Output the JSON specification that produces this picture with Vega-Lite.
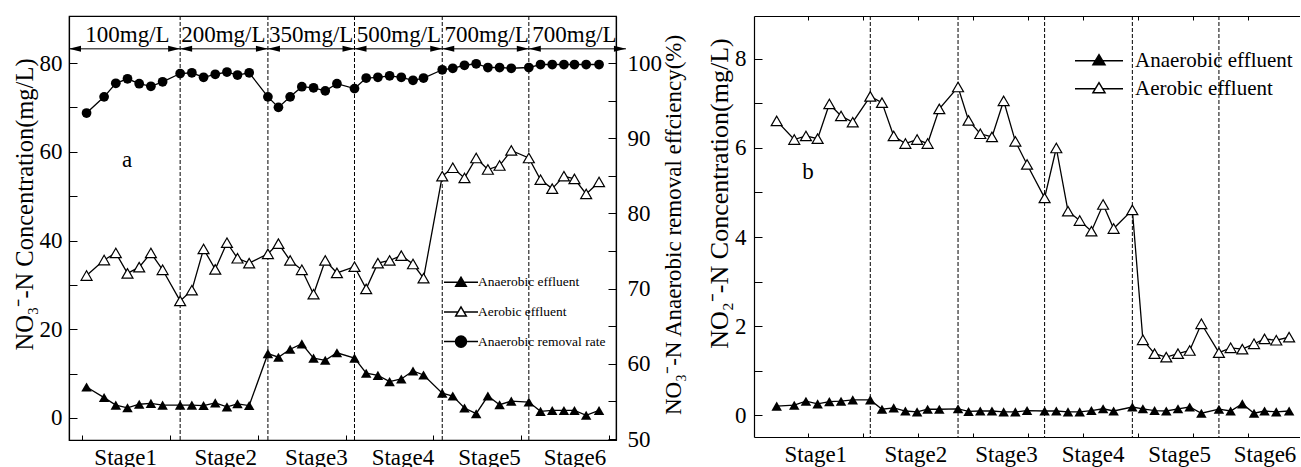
{
  "$schema": "https://vega.github.io/schema/vega-lite/v6.json",
  "padding": {"left": 11, "top": 14, "right": 0, "bottom": 0},
  "spacing": 19,
  "resolve": {"scale": {"shape": "independent", "fill": "independent"}, "legend": {"shape": "independent", "fill": "independent"}},
  "config": {
    "font": "Liberation Serif",
    "view": {"stroke": "black", "strokeWidth": 1.2},
    "style": {"guide-label": {"font": "Liberation Serif", "fill": "black"}, "guide-title": {"font": "Liberation Serif", "fill": "black"}},
    "axis": {"domainColor": "black", "domainWidth": 1.2, "tickColor": "black", "tickWidth": 1, "labelColor": "black", "titleColor": "black", "labelFont": "Liberation Serif", "titleFont": "Liberation Serif", "labelFontSize": 23, "titleFontSize": 23, "titleFontWeight": "normal", "grid": false, "labelOverlap": false, "labelFlush": false, "labelBound": false},
    "legend": {"labelFont": "Liberation Serif", "labelColor": "black"}
  },
  "datasets": {
    "nitrate": [
      {"x": 1.5, "anaerobic": 7.0, "aerobic": 32.1, "rate": 93.35},
      {"x": 3.0, "anaerobic": 4.6, "aerobic": 35.6, "rate": 95.5},
      {"x": 4.0, "anaerobic": 2.9, "aerobic": 37.2, "rate": 97.3},
      {"x": 5.0, "anaerobic": 2.3, "aerobic": 32.6, "rate": 97.9},
      {"x": 6.0, "anaerobic": 3.1, "aerobic": 34.0, "rate": 97.25},
      {"x": 7.0, "anaerobic": 3.3, "aerobic": 37.2, "rate": 96.9},
      {"x": 8.0, "anaerobic": 2.9, "aerobic": 33.4, "rate": 97.5},
      {"x": 9.5, "anaerobic": 2.9, "aerobic": 26.4, "rate": 98.6},
      {"x": 10.5, "anaerobic": 2.9, "aerobic": 28.8, "rate": 98.7},
      {"x": 11.5, "anaerobic": 2.8, "aerobic": 38.1, "rate": 98.1},
      {"x": 12.5, "anaerobic": 3.4, "aerobic": 33.5, "rate": 98.5},
      {"x": 13.5, "anaerobic": 2.5, "aerobic": 39.5, "rate": 98.8},
      {"x": 14.4, "anaerobic": 3.2, "aerobic": 36.0, "rate": 98.4},
      {"x": 15.4, "anaerobic": 2.8, "aerobic": 34.9, "rate": 98.7},
      {"x": 17.0, "anaerobic": 14.5, "aerobic": 37.0, "rate": 95.5},
      {"x": 17.9, "anaerobic": 13.7, "aerobic": 39.3, "rate": 94.1},
      {"x": 18.9, "anaerobic": 15.5, "aerobic": 35.5, "rate": 95.5},
      {"x": 19.9, "anaerobic": 16.7, "aerobic": 33.4, "rate": 96.85},
      {"x": 20.9, "anaerobic": 13.5, "aerobic": 27.9, "rate": 96.7},
      {"x": 21.9, "anaerobic": 13.0, "aerobic": 35.5, "rate": 96.3},
      {"x": 22.9, "anaerobic": 14.7, "aerobic": 32.7, "rate": 97.25},
      {"x": 24.4, "anaerobic": 13.5, "aerobic": 34.1, "rate": 96.6},
      {"x": 25.4, "anaerobic": 10.1, "aerobic": 29.1, "rate": 98.0},
      {"x": 26.4, "anaerobic": 9.6, "aerobic": 34.9, "rate": 98.1},
      {"x": 27.4, "anaerobic": 8.2, "aerobic": 35.5, "rate": 98.3},
      {"x": 28.4, "anaerobic": 8.8, "aerobic": 36.6, "rate": 98.1},
      {"x": 29.4, "anaerobic": 10.6, "aerobic": 34.7, "rate": 97.7},
      {"x": 30.3, "anaerobic": 9.7, "aerobic": 31.5, "rate": 98.0},
      {"x": 31.9, "anaerobic": 5.6, "aerobic": 54.5, "rate": 99.1},
      {"x": 32.8, "anaerobic": 4.95, "aerobic": 56.4, "rate": 99.3},
      {"x": 33.8, "anaerobic": 2.25, "aerobic": 54.1, "rate": 99.7},
      {"x": 34.8, "anaerobic": 0.97, "aerobic": 58.6, "rate": 99.9},
      {"x": 35.8, "anaerobic": 4.95, "aerobic": 56.0, "rate": 99.4},
      {"x": 36.8, "anaerobic": 3.0, "aerobic": 56.9, "rate": 99.4},
      {"x": 37.8, "anaerobic": 3.8, "aerobic": 60.3, "rate": 99.3},
      {"x": 39.3, "anaerobic": 3.6, "aerobic": 58.6, "rate": 99.4},
      {"x": 40.3, "anaerobic": 1.5, "aerobic": 53.7, "rate": 99.8},
      {"x": 41.3, "anaerobic": 1.7, "aerobic": 51.7, "rate": 99.8},
      {"x": 42.3, "anaerobic": 1.7, "aerobic": 54.5, "rate": 99.8},
      {"x": 43.2, "anaerobic": 1.7, "aerobic": 53.9, "rate": 99.8},
      {"x": 44.2, "anaerobic": 0.6, "aerobic": 50.5, "rate": 99.8},
      {"x": 45.3, "anaerobic": 1.7, "aerobic": 53.2, "rate": 99.8}
    ],
    "nitrite": [
      {"x": 1.5, "anaerobic": 0.20, "aerobic": 6.61},
      {"x": 3.0, "anaerobic": 0.22, "aerobic": 6.19},
      {"x": 4.0, "anaerobic": 0.31, "aerobic": 6.27},
      {"x": 5.0, "anaerobic": 0.25, "aerobic": 6.21},
      {"x": 6.0, "anaerobic": 0.30, "aerobic": 6.99},
      {"x": 7.0, "anaerobic": 0.31, "aerobic": 6.72},
      {"x": 8.0, "anaerobic": 0.34, "aerobic": 6.58},
      {"x": 9.5, "anaerobic": 0.34, "aerobic": 7.16},
      {"x": 10.5, "anaerobic": 0.13, "aerobic": 7.02},
      {"x": 11.5, "anaerobic": 0.16, "aerobic": 6.27},
      {"x": 12.5, "anaerobic": 0.09, "aerobic": 6.10},
      {"x": 13.5, "anaerobic": 0.07, "aerobic": 6.19},
      {"x": 14.4, "anaerobic": 0.13, "aerobic": 6.10},
      {"x": 15.4, "anaerobic": 0.13, "aerobic": 6.88},
      {"x": 17.0, "anaerobic": 0.14, "aerobic": 7.37},
      {"x": 17.9, "anaerobic": 0.08, "aerobic": 6.62},
      {"x": 18.9, "anaerobic": 0.09, "aerobic": 6.32},
      {"x": 19.9, "anaerobic": 0.09, "aerobic": 6.25},
      {"x": 20.9, "anaerobic": 0.07, "aerobic": 7.06},
      {"x": 21.9, "anaerobic": 0.07, "aerobic": 6.15},
      {"x": 22.9, "anaerobic": 0.10, "aerobic": 5.63},
      {"x": 24.4, "anaerobic": 0.09, "aerobic": 4.88},
      {"x": 25.4, "anaerobic": 0.09, "aerobic": 6.00},
      {"x": 26.4, "anaerobic": 0.07, "aerobic": 4.58},
      {"x": 27.4, "anaerobic": 0.07, "aerobic": 4.37},
      {"x": 28.4, "anaerobic": 0.10, "aerobic": 4.13},
      {"x": 29.4, "anaerobic": 0.14, "aerobic": 4.73},
      {"x": 30.3, "anaerobic": 0.09, "aerobic": 4.19},
      {"x": 31.9, "anaerobic": 0.18, "aerobic": 4.61},
      {"x": 32.8, "anaerobic": 0.14, "aerobic": 1.69},
      {"x": 33.8, "anaerobic": 0.10, "aerobic": 1.38},
      {"x": 34.8, "anaerobic": 0.09, "aerobic": 1.30},
      {"x": 35.8, "anaerobic": 0.14, "aerobic": 1.38},
      {"x": 36.8, "anaerobic": 0.18, "aerobic": 1.45},
      {"x": 37.8, "anaerobic": 0.04, "aerobic": 2.05},
      {"x": 39.3, "anaerobic": 0.13, "aerobic": 1.40},
      {"x": 40.3, "anaerobic": 0.09, "aerobic": 1.51},
      {"x": 41.3, "anaerobic": 0.25, "aerobic": 1.48},
      {"x": 42.3, "anaerobic": 0.04, "aerobic": 1.60},
      {"x": 43.2, "anaerobic": 0.09, "aerobic": 1.71},
      {"x": 44.2, "anaerobic": 0.07, "aerobic": 1.68},
      {"x": 45.3, "anaerobic": 0.09, "aerobic": 1.75}
    ],
    "dividers": [{"x": 9.5}, {"x": 17.0}, {"x": 24.4}, {"x": 31.9}, {"x": 39.3}],
    "influent": [
      {"conc": "100mg/L", "start": 0, "end": 9.5, "mid": 5.0},
      {"conc": "200mg/L", "start": 9.5, "end": 17.0, "mid": 13.19},
      {"conc": "350mg/L", "start": 17.0, "end": 24.4, "mid": 20.7},
      {"conc": "500mg/L", "start": 24.4, "end": 31.9, "mid": 28.2},
      {"conc": "700mg/L", "start": 31.9, "end": 39.3, "mid": 35.7},
      {"conc": "700mg/L", "start": 39.3, "end": 47.6, "mid": 43.2}
    ],
    "series3": [
      {"series": "Anaerobic effluent"},
      {"series": "Aerobic effluent"},
      {"series": "Anaerobic removal rate"}
    ]
  },
  "hconcat": [
    {
      "width": 547,
      "height": 424,
      "layer": [
        {
          "layer": [
            {
              "data": {"name": "dividers"},
              "mark": {"type": "rule", "color": "black", "strokeWidth": 1, "strokeDash": [4, 2]},
              "encoding": {
                "x": {"field": "x", "type": "quantitative", "scale": {"domain": [0, 46.75], "nice": false, "zero": false}}
              }
            },
            {
              "data": {"name": "influent"},
              "mark": {"type": "rule", "color": "black", "strokeWidth": 1, "clip": false},
              "encoding": {
                "x": {"field": "start", "type": "quantitative"},
                "x2": {"field": "end"},
                "y": {"datum": 83.2, "type": "quantitative"}
              }
            },
            {
              "data": {"name": "influent"},
              "mark": {"type": "point", "shape": "M0,0L2,-0.5L2,0.5Z", "size": 144, "filled": true, "color": "black", "opacity": 1, "clip": false},
              "encoding": {
                "x": {"field": "start", "type": "quantitative"},
                "y": {"datum": 83.2, "type": "quantitative"}
              }
            },
            {
              "data": {"name": "influent"},
              "mark": {"type": "point", "shape": "M0,0L-2,-0.5L-2,0.5Z", "size": 144, "filled": true, "color": "black", "opacity": 1, "clip": false},
              "encoding": {
                "x": {"field": "end", "type": "quantitative"},
                "y": {"datum": 83.2, "type": "quantitative"}
              }
            },
            {
              "data": {"name": "influent"},
              "mark": {"type": "text", "font": "Liberation Serif", "fontSize": 23, "baseline": "alphabetic", "align": "center", "color": "black", "clip": false},
              "encoding": {
                "x": {"field": "mid", "type": "quantitative"},
                "y": {"datum": 84.8, "type": "quantitative"},
                "text": {"field": "conc"}
              }
            },
            {
              "data": {"values": [{"label": "a"}]},
              "mark": {"type": "text", "font": "Liberation Serif", "fontSize": 23, "baseline": "middle", "align": "center", "color": "black"},
              "encoding": {
                "x": {"datum": 4.96, "type": "quantitative"},
                "y": {"datum": 58.15, "type": "quantitative"},
                "text": {"field": "label"}
              }
            },
            {
              "data": {"name": "nitrate"},
              "mark": {"type": "line", "color": "black", "strokeWidth": 1.3},
              "encoding": {
                "x": {"field": "x", "type": "quantitative", "axis": {
                  "title": null,
                  "labelFont": "Liberation Serif",
                  "values": [1.15, 3.65, 6.15, 8.65, 11.15, 13.65, 16.15, 18.65, 21.15, 23.65, 26.15, 28.65, 31.15, 33.65, 36.15, 38.65, 41.15, 43.65, 46.15, 4.8, 13.35, 21.1, 28.5, 35.9, 43.2],
                  "labelExpr": "datum.value == 4.8 ? 'Stage1' : datum.value == 13.35 ? 'Stage2' : datum.value == 21.1 ? 'Stage3' : datum.value == 28.5 ? 'Stage4' : datum.value == 35.9 ? 'Stage5' : datum.value == 43.2 ? 'Stage6' : ''",
                  "tickOpacity": {"condition": {"test": "indexof([4.8, 13.35, 21.1, 28.5, 35.9, 43.2], datum.value) >= 0", "value": 0}, "value": 1},
                  "tickSize": -5,
                  "labelPadding": 11
                }},
                "y": {"field": "anaerobic", "type": "quantitative", "scale": {"domain": [-4.96, 90.6], "nice": false, "zero": false}, "axis": {
                  "title": "NO₃⁻-N  Concentration(mg/L)",
                  "labelFont": "Liberation Serif",
                  "titleFont": "Liberation Serif",
                  "titleFontSize": 24.5,
                  "titleY": 188,
                  "values": [0, 10, 20, 30, 40, 50, 60, 70, 80],
                  "labelExpr": "datum.value % 20 == 0 ? datum.label : ''",
                  "tickSize": -8,
                  "labelPadding": 15,
                  "titlePadding": 2
                }}
              }
            },
            {
              "data": {"name": "nitrate"},
              "mark": {"type": "line", "color": "black", "strokeWidth": 1.3},
              "encoding": {
                "x": {"field": "x", "type": "quantitative"},
                "y": {"field": "aerobic", "type": "quantitative"}
              }
            },
            {
              "data": {"name": "nitrate"},
              "mark": {"type": "point", "shape": "triangle-up", "filled": true, "color": "black", "size": 110, "opacity": 1},
              "encoding": {
                "x": {"field": "x", "type": "quantitative"},
                "y": {"field": "anaerobic", "type": "quantitative"}
              }
            },
            {
              "data": {"name": "nitrate"},
              "mark": {"type": "point", "shape": "triangle-up", "filled": true, "fill": "white", "stroke": "black", "strokeWidth": 1.2, "size": 120, "opacity": 1},
              "encoding": {
                "x": {"field": "x", "type": "quantitative"},
                "y": {"field": "aerobic", "type": "quantitative"}
              }
            },
            {
              "data": {"name": "series3"},
              "transform": [{"filter": "false"}],
              "mark": {"type": "point", "filled": true, "stroke": "black", "strokeWidth": 1.2, "size": 289, "opacity": 1},
              "encoding": {
                "shape": {"field": "series", "type": "nominal",
                  "scale": {"domain": ["Anaerobic effluent", "Aerobic effluent", "Anaerobic removal rate"],
                    "range": ["M-2,0H-0.34M0.34,0H2M-0.62,0.47L0,-0.59L0.62,0.47Z", "M-2,0H-0.34M0.34,0H2M-0.62,0.47L0,-0.59L0.62,0.47Z", "M-2,0H-0.65M0.65,0H2M-0.65,0A0.65,0.65,0,1,1,0.65,0A0.65,0.65,0,1,1,-0.65,0Z"]},
                  "legend": {"title": null, "orient": "none", "legendX": 382.5, "legendY": 256.7, "labelFontSize": 13.5, "labelOffset": 7.5, "rowPadding": 12.7, "padding": 0, "symbolSize": 289,
                    "encode": {"symbols": {"update": {"stroke": {"value": "black"}, "strokeWidth": {"value": 1.2}}}}}},
                "fill": {"field": "series", "type": "nominal",
                  "scale": {"domain": ["Anaerobic effluent", "Aerobic effluent", "Anaerobic removal rate"], "range": ["black", "white", "black"]},
                  "legend": {"title": null, "orient": "none", "legendX": 382.5, "legendY": 256.7, "labelFontSize": 13.5, "labelOffset": 7.5, "rowPadding": 12.7, "padding": 0, "symbolSize": 289,
                    "encode": {"symbols": {"update": {"stroke": {"value": "black"}, "strokeWidth": {"value": 1.2}}}}}}
              }
            }
          ]
        },
        {
          "layer": [
            {
              "data": {"name": "nitrate"},
              "mark": {"type": "line", "color": "black", "strokeWidth": 1.3},
              "encoding": {
                "x": {"field": "x", "type": "quantitative"},
                "y": {"field": "rate", "type": "quantitative", "scale": {"domain": [49.87, 106.25], "nice": false, "zero": false}, "axis": {
                  "orient": "right",
                  "title": "NO₃⁻-N Anaerobic removal effciency(%)",
                  "labelFont": "Liberation Serif",
                  "titleFont": "Liberation Serif",
                  "titleAngle": 270,
                  "titleBaseline": "top",
                  "titleY": 208.5,
                  "values": [50, 55, 60, 65, 70, 75, 80, 85, 90, 95, 100],
                  "labelExpr": "datum.value % 10 == 0 ? datum.label : ''",
                  "tickSize": -8,
                  "labelPadding": 19,
                  "titlePadding": 1
                }}
              }
            },
            {
              "data": {"name": "nitrate"},
              "mark": {"type": "point", "shape": "circle", "filled": true, "color": "black", "size": 95, "opacity": 1},
              "encoding": {
                "x": {"field": "x", "type": "quantitative"},
                "y": {"field": "rate", "type": "quantitative"}
              }
            }
          ]
        }
      ],
      "resolve": {"scale": {"y": "independent"}}
    },
    {
      "width": 546,
      "height": 421,
      "view": {"stroke": null},
      "layer": [
        {
          "data": {"name": "dividers"},
          "mark": {"type": "rule", "color": "black", "strokeWidth": 1, "strokeDash": [4, 2]},
          "encoding": {
            "x": {"field": "x", "type": "quantitative", "scale": {"domain": [-0.44, 46.23], "nice": false, "zero": false}, "axis": {
              "orient": "top", "title": null, "labels": false,
              "values": [4.2, 8.9, 13.6, 18.3, 23.0, 27.7, 32.4, 37.1, 41.8],
              "tickSize": -4
            }}
          }
        },
        {
          "data": {"name": "nitrite"},
          "mark": {"type": "line", "color": "black", "strokeWidth": 1.3},
          "encoding": {
            "x": {"field": "x", "type": "quantitative", "axis": {
              "title": null,
              "labelFont": "Liberation Serif",
              "values": [4.2, 8.9, 13.6, 18.3, 23.0, 27.7, 32.4, 37.1, 41.8, 4.8, 13.35, 21.1, 28.5, 35.9, 43.2],
              "labelExpr": "datum.value == 4.8 ? 'Stage1' : datum.value == 13.35 ? 'Stage2' : datum.value == 21.1 ? 'Stage3' : datum.value == 28.5 ? 'Stage4' : datum.value == 35.9 ? 'Stage5' : datum.value == 43.2 ? 'Stage6' : ''",
              "tickOpacity": {"condition": {"test": "indexof([4.8, 13.35, 21.1, 28.5, 35.9, 43.2], datum.value) >= 0", "value": 0}, "value": 1},
              "tickSize": -4,
              "labelPadding": 10
            }},
            "y": {"field": "anaerobic", "type": "quantitative", "scale": {"domain": [-0.494, 8.966], "nice": false, "zero": false}, "axis": {
              "title": "NO₂⁻-N  Concentration(mg/L)",
              "labelFont": "Liberation Serif",
              "titleFont": "Liberation Serif",
              "titleFontSize": 26,
              "titleY": 177,
              "values": [0, 1, 2, 3, 4, 5, 6, 7, 8],
              "labelExpr": "datum.value % 2 == 0 ? datum.label : ''",
              "tickSize": -8,
              "labelPadding": 16,
              "titlePadding": 2
            }}
          }
        },
        {
          "data": {"name": "nitrite"},
          "mark": {"type": "line", "color": "black", "strokeWidth": 1.3},
          "encoding": {
            "x": {"field": "x", "type": "quantitative", "axis": null},
            "y": {"field": "aerobic", "type": "quantitative"}
          }
        },
        {
          "data": {"name": "nitrite"},
          "mark": {"type": "point", "shape": "triangle-up", "filled": true, "color": "black", "size": 110, "opacity": 1},
          "encoding": {
            "x": {"field": "x", "type": "quantitative", "axis": null},
            "y": {"field": "anaerobic", "type": "quantitative"}
          }
        },
        {
          "data": {"name": "nitrite"},
          "mark": {"type": "point", "shape": "triangle-up", "filled": true, "fill": "white", "stroke": "black", "strokeWidth": 1.2, "size": 120, "opacity": 1},
          "encoding": {
            "x": {"field": "x", "type": "quantitative", "axis": null},
            "y": {"field": "aerobic", "type": "quantitative"}
          }
        },
        {
          "data": {"values": [{"label": "b"}]},
          "mark": {"type": "text", "font": "Liberation Serif", "fontSize": 23, "baseline": "middle", "align": "center", "color": "black"},
          "encoding": {
            "x": {"datum": 4.18, "type": "quantitative", "axis": null},
            "y": {"datum": 5.46, "type": "quantitative"},
            "text": {"field": "label"}
          }
        },
        {
          "data": {"name": "series3"},
          "transform": [{"filter": "false"}],
          "mark": {"type": "point", "filled": true, "stroke": "black", "strokeWidth": 1.2, "size": 576, "opacity": 1},
          "encoding": {
            "shape": {"field": "series", "type": "nominal",
              "scale": {"domain": ["Anaerobic effluent", "Aerobic effluent"],
                "range": ["M-2,0H-0.3M0.3,0H2M-0.5,0.33L0,-0.5L0.5,0.33Z", "M-2,0H-0.3M0.3,0H2M-0.5,0.33L0,-0.5L0.5,0.33Z"]},
              "legend": {"title": null, "orient": "none", "legendX": 332, "legendY": 31.7, "labelFontSize": 21, "labelOffset": 23, "rowPadding": 5, "padding": 0, "symbolSize": 576,
                "encode": {"symbols": {"update": {"stroke": {"value": "black"}, "strokeWidth": {"value": 1.2}}}}}},
            "fill": {"field": "series", "type": "nominal",
              "scale": {"domain": ["Anaerobic effluent", "Aerobic effluent"], "range": ["black", "white"]},
              "legend": {"title": null, "orient": "none", "legendX": 332, "legendY": 31.7, "labelFontSize": 21, "labelOffset": 23, "rowPadding": 5, "padding": 0, "symbolSize": 576,
                "encode": {"symbols": {"update": {"stroke": {"value": "black"}, "strokeWidth": {"value": 1.2}}}}}}
          }
        }
      ],
      "resolve": {"axis": {"x": "independent"}}
    }
  ]
}
